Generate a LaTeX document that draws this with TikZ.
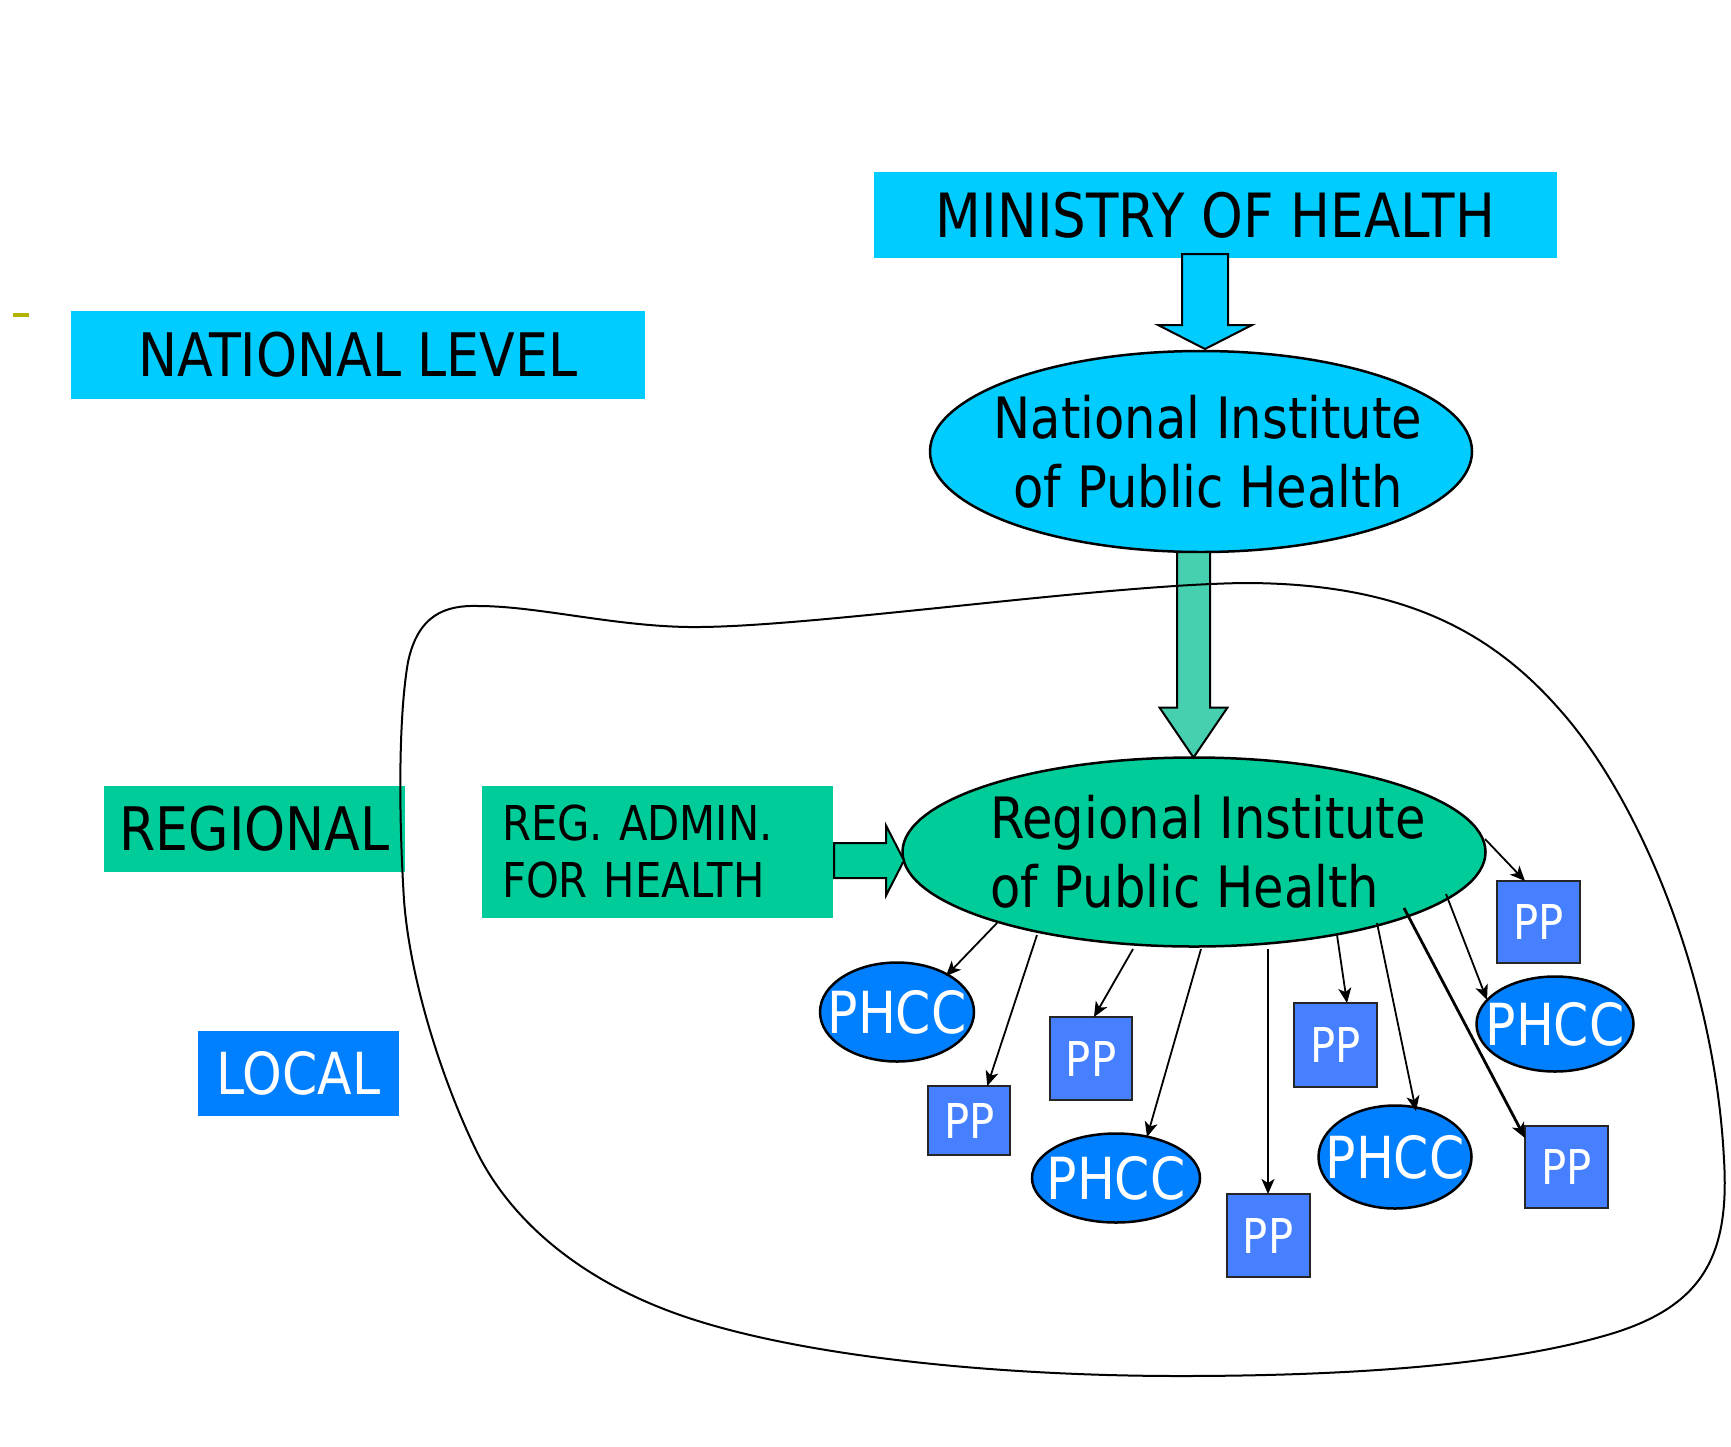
\documentclass[tikz,border=0pt]{standalone}
\usepackage{fontspec}
\setmainfont{DejaVu Sans}[FakeStretch=0.87]
\usetikzlibrary{calc,arrows.meta,shapes.geometric}
\definecolor{cyanbox}{RGB}{0,204,255}
\definecolor{tealbox}{RGB}{0,204,153}
\definecolor{bluebox}{RGB}{0,128,255}
\definecolor{ppblue}{RGB}{70,128,255}
\definecolor{olivedash}{RGB}{178,178,0}
\definecolor{arrowteal}{RGB}{70,208,175}
\newcommand{\vblockarrow}[6]{%
  \draw[#1] let \p1=(#2), \p2=(#3) in
    (\x1-#4,\y1) -- (\x1+#4,\y1) -- (\x1+#4,\y2+#6) -- (\x1+#5,\y2+#6)
    -- (\x1,\y2) -- (\x1-#5,\y2+#6) -- (\x1-#4,\y2+#6) -- cycle;}
\newcommand{\hblockarrow}[6]{%
  \draw[#1] let \p1=(#2), \p2=(#3) in
    (\x1,\y1+#4) -- (\x2-#6,\y1+#4) -- (\x2-#6,\y1+#5) -- (\x2,\y1)
    -- (\x2-#6,\y1-#5) -- (\x2-#6,\y1-#4) -- (\x1,\y1-#4) -- cycle;}
\tikzset{
  boxbase/.style={rectangle, inner sep=0pt, outer sep=0pt},
  bigfont/.style={font=\fontsize{60}{69}\selectfont},
  ellfont/.style={font=\fontsize{57}{69}\selectfont},
  midfont/.style={font=\fontsize{48}{57}\selectfont},
  ellbase/.style={ellipse, inner sep=0pt, outer sep=0pt, draw=black, line width=2.5pt},
  phccnode/.style={ellbase, fill=bluebox},
  phcclabel/.style={font=\fontsize{58}{69}\selectfont, text=white},
  ppnode/.style={boxbase, draw=black!85, line width=2pt, fill=ppblue, text=white,
    midfont, minimum width=83pt},
  blockcyan/.style={fill=cyanbox, draw=black, line width=2pt},
  blockgrid/.style={fill=arrowteal, draw=black, line width=2pt},
  blockteal/.style={fill=tealbox, draw=black, line width=2pt},
  conn/.style={draw=black, line width=1.8pt, -{Stealth[length=15pt,width=13pt,inset=4pt]}},
  connthick/.style={conn, line width=2.8pt},
  outline/.style={draw=black, line width=2pt}
}
\begin{document}
\begin{tikzpicture}[x=1pt,y=-1pt]
\useasboundingbox (0,0) rectangle (1731,1446);
\fill[white] (0,0) rectangle (1731,1446);
\fill[olivedash] (13,313) rectangle (29,317);

% level boxes
\node[boxbase, fill=cyanbox, minimum width=683pt, minimum height=86pt,
  font=\fontsize{61}{69}\selectfont] (min) at (1215.5,215) {MINISTRY OF HEALTH};
\node[boxbase, bigfont, fill=cyanbox, minimum width=574pt, minimum height=88pt] (nat) at (358,355) {NATIONAL LEVEL};
\node[boxbase, bigfont, fill=tealbox, minimum width=301pt, minimum height=86pt] (reg) at (254.5,829) {REGIONAL};
\node[boxbase, midfont, fill=tealbox, text width=311pt, inner xsep=20pt, minimum height=132pt,
  align=left] (regadm) at (657.5,852) {REG. ADMIN.\\FOR HEALTH};
\node[boxbase, fill=bluebox, text=white, minimum width=201pt, minimum height=85pt,
  font=\fontsize{58}{69}\selectfont] (loc) at (298.5,1073.5) {LOCAL};

% institutes
\node[ellbase, fill=cyanbox, minimum width=542pt, minimum height=201pt,
  label={[ellfont, align=center]center:\hspace*{14pt}National Institute\\\hspace*{14pt}of Public Health}] (niph) at (1201,451.5) {};
\node[ellbase, fill=tealbox, minimum width=583pt, minimum height=189pt,
  label={[ellfont, align=left]center:\hspace*{28pt}Regional Institute\\\hspace*{28pt}of Public Health}] (riph) at (1194,852) {};

% local units
\node[phccnode, minimum width=154pt, minimum height=99pt, label={[phcclabel]center:PHCC}] (phcc1) at (897,1012) {};
\node[phccnode, minimum width=168pt, minimum height=89pt, label={[phcclabel]center:PHCC}] (phcc2) at (1116,1178) {};
\node[phccnode, minimum width=153pt, minimum height=103pt, label={[phcclabel]center:PHCC}] (phcc3) at (1395,1157) {};
\node[phccnode, minimum width=157pt, minimum height=95pt, label={[phcclabel]center:PHCC}] (phcc4) at (1555,1024) {};

\node[ppnode, minimum width=82pt, minimum height=69pt] (pp1) at (969.25,1120.5) {PP};
\node[ppnode, minimum width=82pt, minimum height=83pt] (pp2) at (1091,1058.5) {PP};
\node[ppnode, minimum height=83pt] (pp3) at (1268,1235.5) {PP};
\node[ppnode, minimum height=84pt] (pp4) at (1335.5,1045) {PP};
\node[ppnode, minimum height=82pt] (pp5) at (1566.5,1167) {PP};
\node[ppnode, minimum height=82pt] (pp6) at (1538.5,922) {PP};

% block arrows
\vblockarrow{blockcyan}{$(min.south)+(-10.5,-4)$}{$(niph.north)+(4,-2)$}{23pt}{47pt}{24pt}
\vblockarrow{blockgrid}{$(niph.south)+(-7.5,0)$}{riph.north}{16.5pt}{34pt}{50pt}
\hblockarrow{blockteal}{$(regadm.east)+(1,8.5)$}{$(riph.west)+(1.5,0)$}{17.5pt}{35pt}{18pt}

% connectors
\draw[conn] ($(riph.center)+(-197,71)$) -- ($(phcc1.center)+(49,-36)$);
\draw[conn] ($(riph.center)+(-157,83)$) -- ($(pp1.north)+(18,0)$);
\draw[conn] ($(riph.center)+(-61,97)$) -- ($(pp2.north)+(3,0)$);
\draw[conn] ($(riph.center)+(7,97)$) -- ($(phcc2.center)+(31,-41)$);
\draw[conn] ($(riph.center)+(74,97)$) -- (pp3.north);
\draw[conn] ($(riph.center)+(143,83)$) -- ($(pp4.north)+(11.5,0)$);
\draw[conn] ($(riph.center)+(183,71)$) -- ($(phcc3.center)+(21,-46)$);
\draw[connthick] ($(riph.center)+(210,56)$) -- ($(pp5.north west)+(0,12)$);
\draw[conn] ($(riph.center)+(252,42)$) -- ($(phcc4.center)+(-68,-24)$);
\draw[conn] ($(riph.center)+(291,-13)$) -- ($(pp6.north west)+(28,0)$);

% regional boundary
\draw[outline] (404,900)
  .. controls (399,820) and (398,720) .. (408,662)
  .. controls (418,615) and (445,605) .. (478,606)
  .. controls (540,606) and (620,628) .. (700,627)
  .. controls (820,626) and (1100,585) .. (1244,583)
  .. controls (1400,583) and (1490,630) .. (1560,710)
  .. controls (1640,800) and (1715,980) .. (1724,1160)
  .. controls (1730,1260) and (1700,1310) .. (1600,1337)
  .. controls (1500,1365) and (1350,1376) .. (1180,1376)
  .. controls (1000,1376) and (800,1357) .. (680,1315)
  .. controls (580,1280) and (510,1220) .. (476,1150)
  .. controls (442,1080) and (410,980) .. (404,900) -- cycle;
\end{tikzpicture}
\end{document}
